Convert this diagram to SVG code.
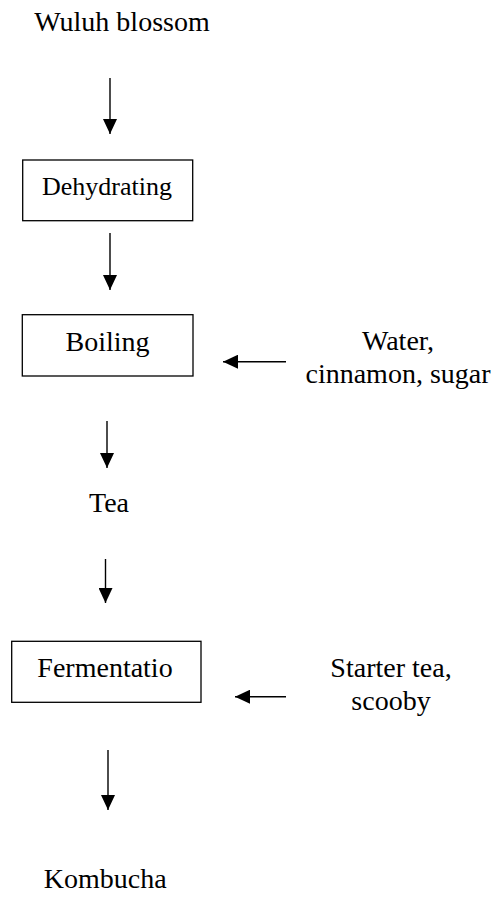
<svg xmlns="http://www.w3.org/2000/svg" width="498" height="897" viewBox="0 0 498 897">
<style>
text{font-family:"Liberation Serif","Times New Roman",serif;font-size:28px;fill:#000;text-anchor:middle}
.box{fill:#fff;stroke:#000;stroke-width:1.3}
.conn line{stroke:#000;stroke-width:1.4;marker-end:url(#ah)}
</style>
<defs>
<marker id="ah" markerUnits="userSpaceOnUse" markerWidth="15" markerHeight="14" refX="15" refY="7" orient="auto">
<path d="M0,0 L15,7 L0,14 z" fill="#000"/>
</marker>
</defs>
<g id="wuluh"><text x="122" y="31">Wuluh blossom</text></g>
<g id="dehydrating"><rect class="box" x="22.7" y="160" width="170" height="60.7"/><text x="107" y="195" style="font-size:26px">Dehydrating</text></g>
<g id="boiling"><rect class="box" x="22.3" y="314.7" width="170.7" height="61.3"/><text x="107.5" y="351">Boiling</text></g>
<g id="water"><text x="398" y="350">Water,</text><text x="398" y="382.7">cinnamon, sugar</text></g>
<g id="tea"><text x="109" y="512">Tea</text></g>
<g id="fermentation"><rect class="box" x="11.7" y="641.3" width="189.3" height="61"/><text x="105" y="676.7">Fermentatio</text></g>
<g id="starter"><text x="391" y="676.7">Starter tea,</text><text x="391" y="710">scooby</text></g>
<g id="kombucha"><text x="105.3" y="888.3">Kombucha</text></g>
<g class="conn" id="connectors">
<line x1="110" y1="78" x2="110" y2="134"/>
<line x1="110" y1="233" x2="110" y2="290"/>
<line x1="107" y1="421" x2="107" y2="468"/>
<line x1="105.5" y1="559" x2="105.5" y2="603"/>
<line x1="108" y1="750" x2="108" y2="810"/>
<line x1="286" y1="361.7" x2="223" y2="361.7"/>
<line x1="286" y1="696.7" x2="235" y2="696.7"/>
</g>
</svg>
